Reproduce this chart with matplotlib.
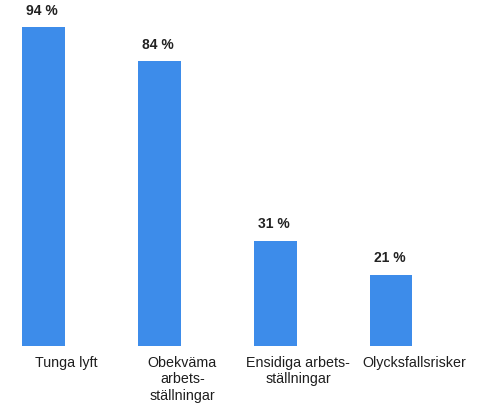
import numpy as np
import matplotlib.pyplot as plt

# 데이터
categories = ['Tunga lyft', 'Obekväma\narbets-\nställningar',
              'Ensidiga arbets-\nställningar', 'Olycksfallsrisker']
values = [94, 84, 31, 21]
value_labels = ['94 %', '84 %', '31 %', '21 %']

plt.rcParams['font.family'] = ['Liberation Sans', 'DejaVu Sans']

fig = plt.figure(figsize=(4.84, 4.07), dpi=100)
ax = fig.add_axes([0, 61 / 407, 1, 346 / 407])

x = np.arange(len(values))
ax.bar(x, values, width=0.37, color='#3d8cea', edgecolor='none')

# 막대 위 퍼센트 표시
for xi, v, lab in zip(x, values, value_labels):
    ax.annotate(lab, (xi, v), xytext=(-1, 9), textcoords='offset points',
                ha='center', va='baseline', fontsize=10, fontweight='bold',
                color='#222222')

ax.set_xlim(-0.3755, 3.803)
ax.set_ylim(0, 102.06)

ax.set_xticks(x + 0.2)
ax.set_xticklabels(categories, fontsize=10.3, color='#1e1e1e', linespacing=1.25)
ax.tick_params(axis='x', length=0, pad=7)
ax.tick_params(axis='y', left=False, labelleft=False)
for s in ax.spines.values():
    s.set_visible(False)

fig.savefig('out.png', dpi=100)
